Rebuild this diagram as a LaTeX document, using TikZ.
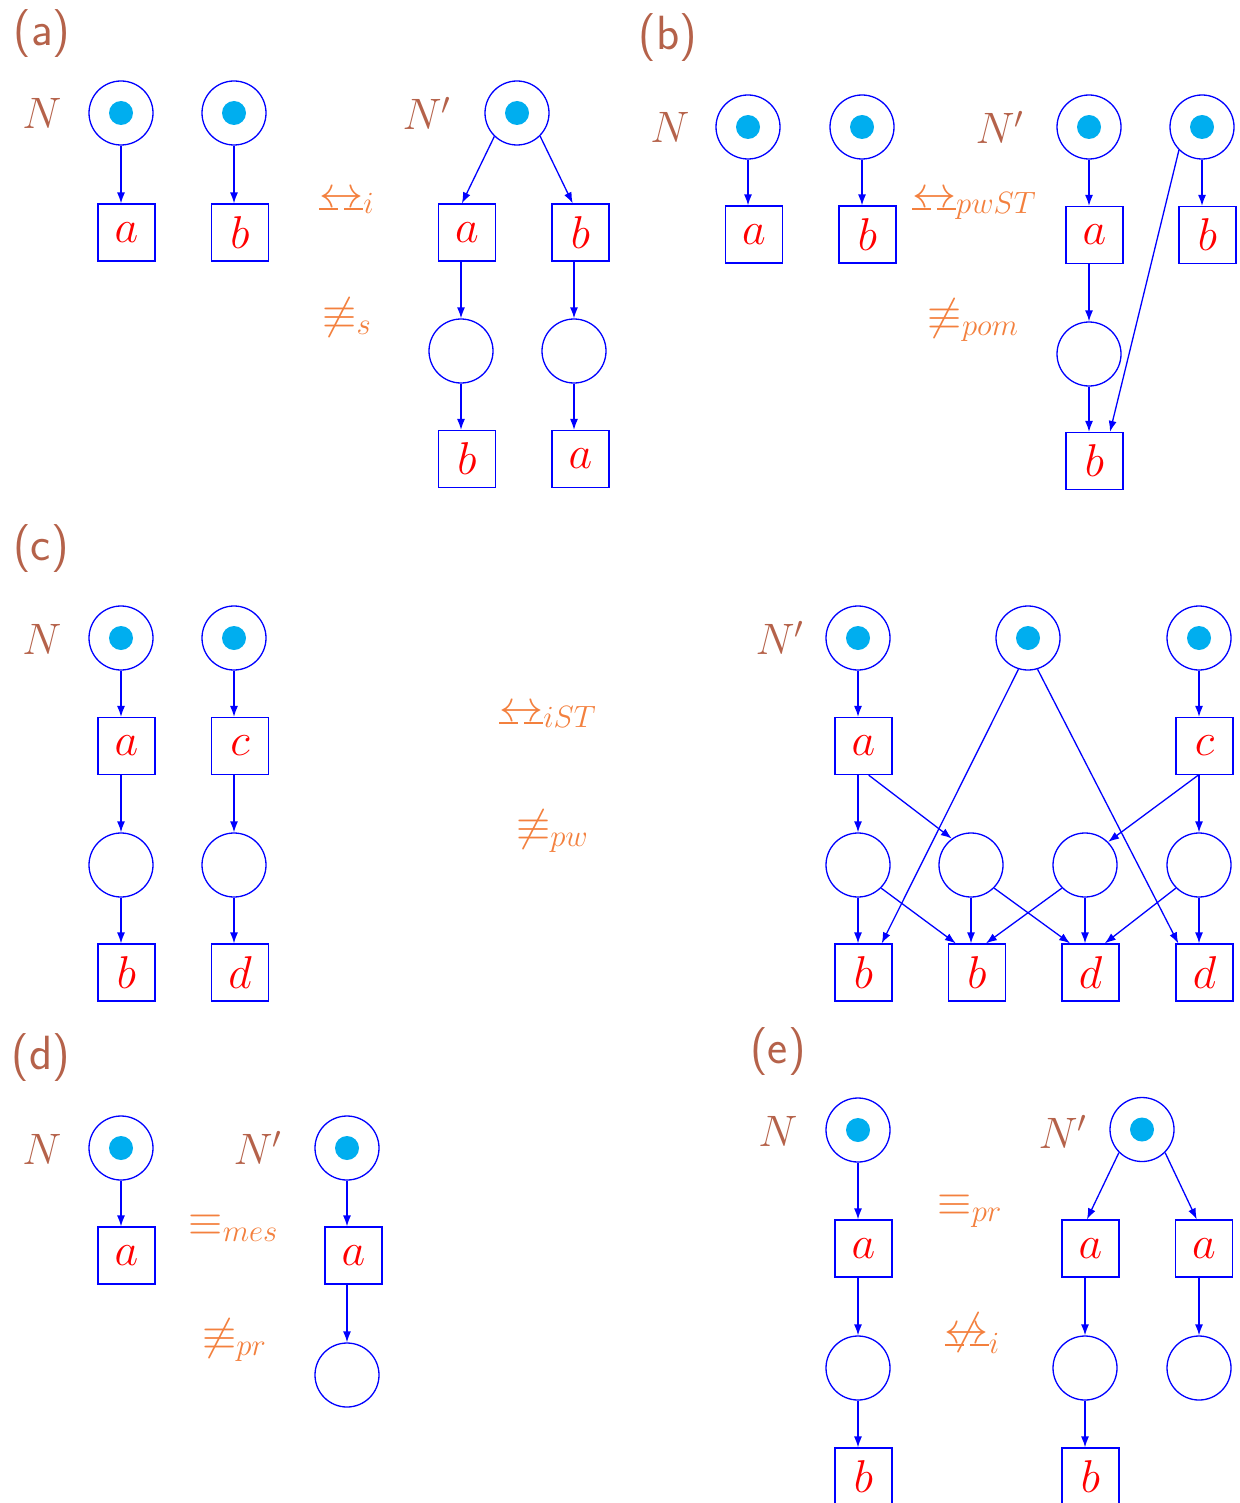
\documentclass[tikz,border=0pt]{standalone}
\usepackage{fix-cm}
\usetikzlibrary{arrows.meta}

\definecolor{netblue}{rgb}{0,0,1}
\definecolor{tokencyan}{RGB}{0,174,239}
\definecolor{labelbrown}{RGB}{181,98,74}
\definecolor{relorange}{RGB}{243,128,62}

% bisimulation arrow with a dashed bar underneath
\newcommand{\dashbar}{\rule{0.43em}{0.045em}\hspace{0.14em}\rule{0.43em}{0.045em}}
\newcommand{\bisim}{\mathrel{\mbox{\ooalign{$\leftrightarrow$\cr\raisebox{-0.07em}{\dashbar}\cr}}}}
\newcommand{\nbisim}{\mathrel{\mbox{\ooalign{$\leftrightarrow$\cr\raisebox{-0.07em}{\dashbar}\cr\hfil$\not\mathrel{\phantom{=}}$\hfil\cr}}}}

\tikzset{
  place/.style={circle, draw=netblue, line width=0.65pt, minimum size=32pt, inner sep=0pt},
  marked/.style={place, path picture={\fill[tokencyan] (path picture bounding box.center) circle (6pt);}},
  trans/.style={rectangle, draw=netblue, line width=0.6pt, minimum size=28.5pt, inner sep=0pt,
                text=red, font=\fontsize{23}{26}\selectfont},
  arc/.style={draw=netblue, line width=0.65pt, -{Latex[length=5.5pt,width=4pt]}},
  netname/.style={text=labelbrown, anchor=base, font=\fontsize{22}{26}\selectfont},
  panel/.style={text=labelbrown, anchor=base, font=\sffamily\fontsize{24}{28}\selectfont},
  relation/.style={text=relorange, anchor=base, font=\fontsize{22}{26}\selectfont},
}

\begin{document}
\begin{tikzpicture}[x=0.5pt,y=-0.5pt]
\useasboundingbox (0,0) rectangle (1239,1503);

% ---------------- (a) ----------------
\node[panel] (la) at (42,46) {(a)};
\node[netname] (Na) at (42,129) {$N$};
\node[marked] (pa1) at (121,113) {};
\node[marked] (pa2) at (234,113) {};
\node[trans] (ta1) at (126.5,232.5) {$a$};
\node[trans] (ta2) at (240,232.5) {$b$};
\draw[arc] (pa1.south) -- (pa1.south |- ta1.north);
\draw[arc] (pa2.south) -- (pa2.south |- ta2.north);

\node[relation] (ra1) at (347,207) {$\bisim_i$};
\node[relation] (ra2) at (347,328) {$\not\equiv_s$};

\node[netname] (Npa) at (427,130) {$N'$};
\node[marked] (pa3) at (517,113) {};
\node[trans] (ta3) at (467,232.5) {$a$};
\node[trans] (ta4) at (580.5,232.5) {$b$};
\node[place] (pa4) at (461,351) {};
\node[place] (pa5) at (574,351) {};
\node[trans] (ta5) at (467,459) {$b$};
\node[trans] (ta6) at (580.5,459) {$a$};
\draw[arc] (pa3.-134) -- (ta3.100);
\draw[arc] (pa3.-45) -- (ta4.105);
\draw[arc] (pa4.north |- ta3.south) -- (pa4.north);
\draw[arc] (pa5.north |- ta4.south) -- (pa5.north);
\draw[arc] (pa4.south) -- (pa4.south |- ta5.north);
\draw[arc] (pa5.south) -- (pa5.south |- ta6.north);

% ---------------- (b) ----------------
\node[panel] (lb) at (668,50) {(b)};
\node[netname] (Nb) at (670,143) {$N$};
\node[marked] (pb1) at (748,127) {};
\node[marked] (pb2) at (862,127) {};
\node[trans] (tb1) at (754,234.5) {$a$};
\node[trans] (tb2) at (867.5,234.5) {$b$};
\draw[arc] (pb1.south) -- (pb1.south |- tb1.north);
\draw[arc] (pb2.south) -- (pb2.south |- tb2.north);

\node[relation] (rb1) at (974.5,207) {$\bisim_{pwST}$};
\node[relation] (rb2) at (973.5,329) {$\not\equiv_{pom}$};

\node[netname] (Npb) at (1000,144) {$N'$};
\node[marked] (pb3) at (1089,127) {};
\node[marked] (pb4) at (1202,127) {};
\node[trans] (tb3) at (1094.5,235) {$a$};
\node[trans] (tb4) at (1207.5,235) {$b$};
\node[place] (pb5) at (1089,354) {};
\node[trans] (tb5) at (1094.5,461) {$b$};
\draw[arc] (pb3.south) -- (pb3.south |- tb3.north);
\draw[arc] (pb4.south) -- (pb4.south |- tb4.north);
\draw[arc] (pb5.north |- tb3.south) -- (pb5.north);
\draw[arc] (pb5.south) -- (pb5.south |- tb5.north);
\draw[arc] (pb4.-135) -- (tb5.62);

% ---------------- (c) ----------------
\node[panel] (lc) at (41,560) {(c)};
\node[netname] (Nc) at (42,654) {$N$};
\node[marked] (pc1) at (121,638) {};
\node[marked] (pc2) at (234,638) {};
\node[trans] (tc1) at (126.5,746) {$a$};
\node[trans] (tc2) at (240,746) {$c$};
\node[place] (pc3) at (121,865) {};
\node[place] (pc4) at (234,865) {};
\node[trans] (tc3) at (126.5,972.5) {$b$};
\node[trans] (tc4) at (240,972.5) {$d$};
\draw[arc] (pc1.south) -- (pc1.south |- tc1.north);
\draw[arc] (pc2.south) -- (pc2.south |- tc2.north);
\draw[arc] (pc3.north |- tc1.south) -- (pc3.north);
\draw[arc] (pc4.north |- tc2.south) -- (pc4.north);
\draw[arc] (pc3.south) -- (pc3.south |- tc3.north);
\draw[arc] (pc4.south) -- (pc4.south |- tc4.north);

\node[relation] (rc1) at (548,721) {$\bisim_{iST}$};
\node[relation] (rc2) at (552.5,840) {$\not\equiv_{pw}$};

\node[netname] (Npc) at (780,654) {$N'$};
\node[marked] (qc1) at (858,638) {};
\node[marked] (qc2) at (1028,638) {};
\node[marked] (qc3) at (1199,638) {};
\node[trans] (uc1) at (863.5,746) {$a$};
\node[trans] (uc2) at (1204.5,746) {$c$};
\node[place] (qc4) at (858,865) {};
\node[place] (qc5) at (971,865) {};
\node[place] (qc6) at (1085,865) {};
\node[place] (qc7) at (1199,865) {};
\node[trans] (uc3) at (863.5,972.5) {$b$};
\node[trans] (uc4) at (977,972.5) {$b$};
\node[trans] (uc5) at (1090.5,972.5) {$d$};
\node[trans] (uc6) at (1204.5,972.5) {$d$};
\draw[arc] (qc1.south) -- (qc1.south |- uc1.north);
\draw[arc] (qc3.south) -- (qc3.south |- uc2.north);
\draw[arc] (qc2.253) -- (uc3.58);
\draw[arc] (qc2.287) -- (uc6.132);
\draw[arc] (qc4.north |- uc1.south) -- (qc4.north);
\draw[arc] (uc1.-80) -- (qc5.126);
\draw[arc] (qc7.north |- uc2.south) -- (qc7.north);
\draw[arc] (uc2.-102) -- (qc6.45);
\draw[arc] (qc4.south) -- (qc4.south |- uc3.north);
\draw[arc] (qc4.-45) -- (uc4.126);
\draw[arc] (qc5.south) -- (qc5.south |- uc4.north);
\draw[arc] (qc5.-45) -- (uc5.125);
\draw[arc] (qc6.-135) -- (uc4.73);
\draw[arc] (qc6.south) -- (qc6.south |- uc5.north);
\draw[arc] (qc7.-135) -- (uc5.64);
\draw[arc] (qc7.south) -- (qc7.south |- uc6.north);

% ---------------- (d) ----------------
\node[panel] (ld) at (41,1069) {(d)};
\node[netname] (Nd) at (42,1164) {$N$};
\node[marked] (pd1) at (121,1148) {};
\node[trans] (td1) at (126.5,1255.5) {$a$};
\draw[arc] (pd1.south) -- (pd1.south |- td1.north);

\node[relation] (rd1) at (233.5,1235) {$\equiv_{mes}$};
\node[relation] (rd2) at (234.5,1349) {$\not\equiv_{pr}$};

\node[netname] (Npd) at (258,1164) {$N'$};
\node[marked] (pd2) at (347,1148) {};
\node[trans] (td2) at (353.5,1255.5) {$a$};
\node[place] (pd3) at (347,1375) {};
\draw[arc] (pd2.south) -- (pd2.south |- td2.north);
\draw[arc] (pd3.north |- td2.south) -- (pd3.north);

% ---------------- (e) ----------------
\node[panel] (le) at (778,1063) {(e)};
\node[netname] (Ne) at (778,1146) {$N$};
\node[marked] (pe1) at (858,1130) {};
\node[trans] (te1) at (863.5,1248.5) {$a$};
\node[place] (pe2) at (858,1368) {};
\node[trans] (te2) at (863.5,1476.5) {$b$};
\draw[arc] (pe1.south) -- (pe1.south |- te1.north);
\draw[arc] (pe2.north |- te1.south) -- (pe2.north);
\draw[arc] (pe2.south) -- (pe2.south |- te2.north);

\node[relation] (re1) at (970,1215) {$\equiv_{pr}$};
\node[relation] (re2) at (972.5,1343) {$\nbisim_i$};

\node[netname] (Npe) at (1063,1148) {$N'$};
\node[marked] (pe3) at (1142,1129.5) {};
\node[trans] (te3) at (1090.5,1248.5) {$a$};
\node[trans] (te4) at (1204,1248.5) {$a$};
\node[place] (pe4) at (1085,1368) {};
\node[place] (pe5) at (1199,1368) {};
\node[trans] (te5) at (1090.5,1476.5) {$b$};
\draw[arc] (pe3.-135) -- (te3.97);
\draw[arc] (pe3.-45) -- (te4.104);
\draw[arc] (pe4.north |- te3.south) -- (pe4.north);
\draw[arc] (pe5.north |- te4.south) -- (pe5.north);
\draw[arc] (pe4.south) -- (pe4.south |- te5.north);
\end{tikzpicture}
\end{document}
